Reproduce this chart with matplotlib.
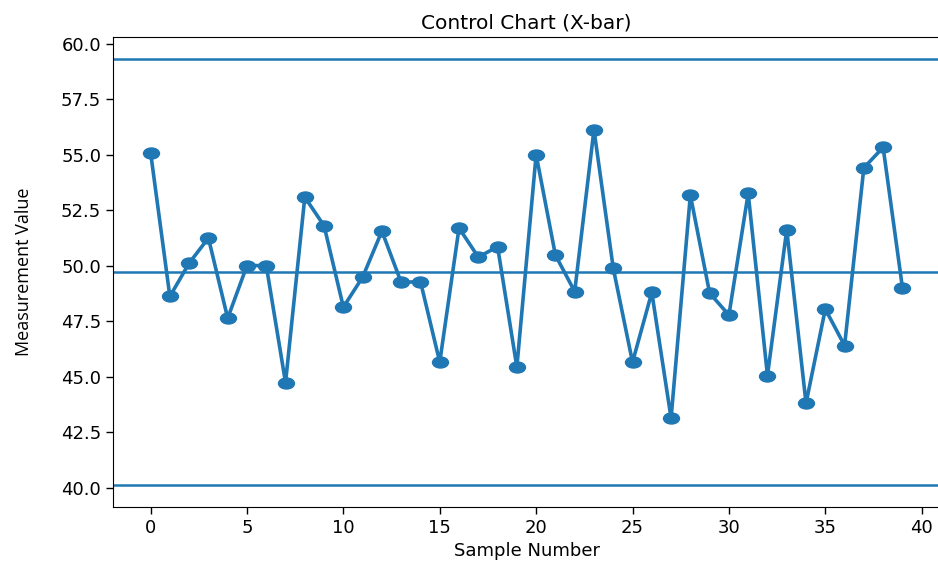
import matplotlib
matplotlib.use("Agg")
import matplotlib.pyplot as plt
from matplotlib.path import Path
from matplotlib.transforms import Affine2D
import numpy as np

samples = list(range(40))
values = [55.10, 48.62, 50.12, 51.25, 47.64, 50.01, 50.01, 44.74, 53.09, 51.80,
          48.14, 49.49, 51.56, 49.25, 49.29, 45.66, 51.70, 50.39, 50.86, 45.44,
          55.00, 50.48, 48.84, 56.13, 49.89, 45.66, 48.80, 43.14, 53.18, 48.77,
          47.78, 53.26, 45.06, 51.62, 43.81, 48.05, 46.41, 54.41, 55.33, 49.02]
center_line = 49.72
ucl = 59.33
lcl = 40.11

# slightly wide elliptical marker (reference image is horizontally stretched)
ellipse = Path.unit_circle().transformed(Affine2D().scale(1.45, 1.0))

fig = plt.figure(figsize=(9.38, 5.62), dpi=100)
ax = fig.add_axes([113/938, 55/562, (940-113)/938, (507-37)/562])

color = "#1f77b4"
ax.plot(samples, values, marker=ellipse, color=color, linewidth=2.6, markersize=11.5)
ax.axhline(center_line, color=color, linewidth=1.8)
ax.axhline(ucl, color=color, linewidth=1.8)
ax.axhline(lcl, color=color, linewidth=1.8)

ax.set_xlim(-1.95, 40.95)
ax.set_ylim(39.14, 60.3)
ax.set_xticks([0, 5, 10, 15, 20, 25, 30, 35, 40])
ax.set_yticks([40.0, 42.5, 45.0, 47.5, 50.0, 52.5, 55.0, 57.5, 60.0])
ax.set_yticklabels(["40.0", "42.5", "45.0", "47.5", "50.0", "52.5", "55.0", "57.5", "60.0"])
ax.tick_params(labelsize=13, length=5, width=1)

ax.set_title("Control Chart (X-bar)", fontsize=14.5, pad=6)
ax.set_xlabel("Sample Number", fontsize=13, labelpad=4)
ax.set_ylabel("Measurement Value", fontsize=13, family=["Open Sans", "DejaVu Sans"], labelpad=20)

fig.savefig("out.png", dpi=100)
